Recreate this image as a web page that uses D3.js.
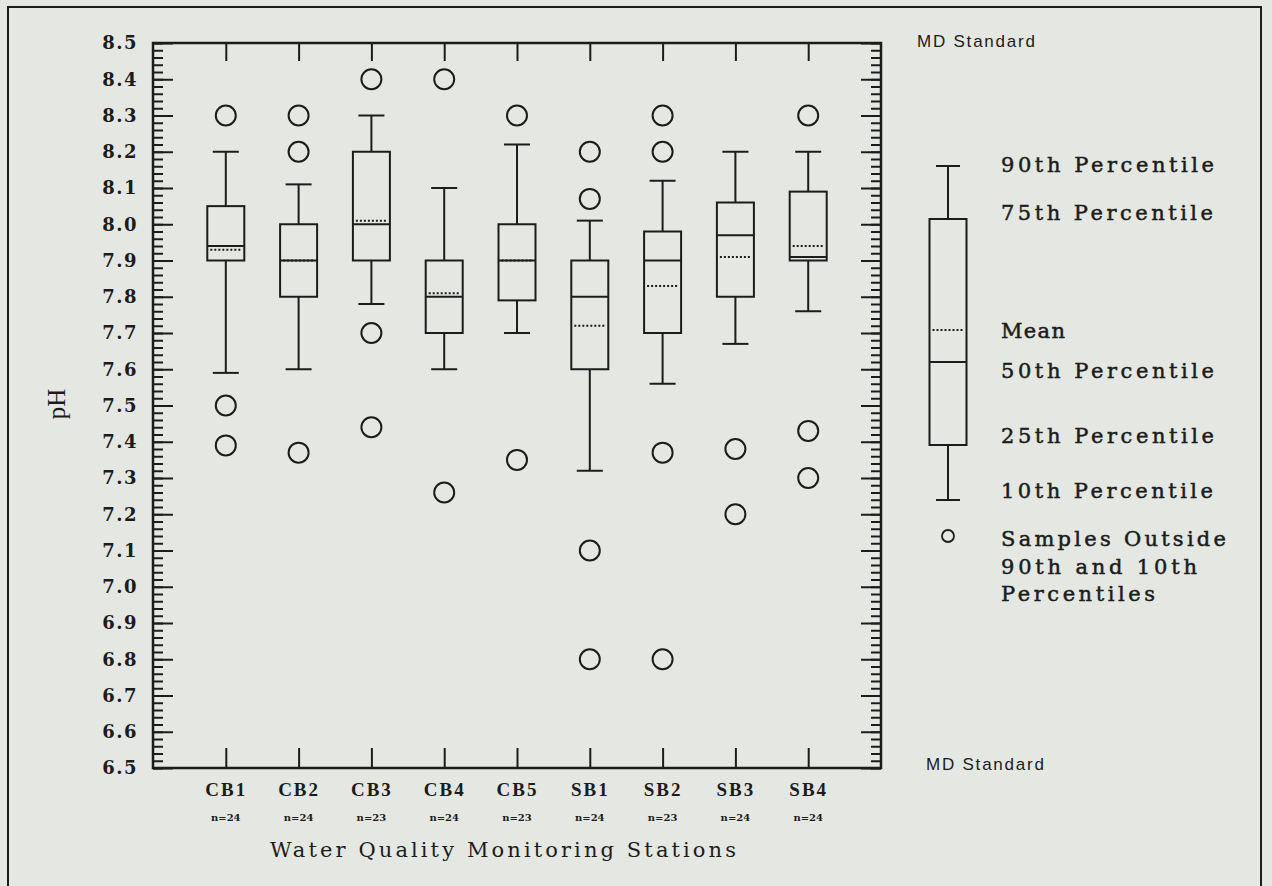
<!DOCTYPE html>
<html>
<head>
<meta charset="utf-8">
<script src="https://cdn.jsdelivr.net/npm/d3@7"></script>
<style>
  html, body { margin: 0; padding: 0; background: #e4e7e2; }
  svg { display: block; }
</style>
</head>
<body>
<svg id="chart" width="1272" height="886"></svg>
<script>
// ---------------- data ----------------
const stations   = ["CB1", "CB2", "CB3", "CB4", "CB5", "SB1", "SB2", "SB3", "SB4"];
const sampleSize = ["n=24", "n=24", "n=23", "n=24", "n=23", "n=24", "n=23", "n=24", "n=24"];
const p10   = [7.59, 7.60, 7.78, 7.60, 7.70, 7.32, 7.56, 7.67, 7.76];
const p25   = [7.90, 7.80, 7.90, 7.70, 7.79, 7.60, 7.70, 7.80, 7.90];
const p50   = [7.94, 7.90, 8.00, 7.80, 7.90, 7.80, 7.90, 7.97, 7.91];
const means = [7.93, 7.90, 8.01, 7.81, 7.90, 7.72, 7.83, 7.91, 7.94];
const p75   = [8.05, 8.00, 8.20, 7.90, 8.00, 7.90, 7.98, 8.06, 8.09];
const p90   = [8.20, 8.11, 8.30, 8.10, 8.22, 8.01, 8.12, 8.20, 8.20];
const outliers = [
  [8.30, 7.50, 7.39],
  [8.30, 8.20, 7.37],
  [8.40, 7.70, 7.44],
  [8.40, 7.26],
  [8.30, 7.35],
  [8.20, 8.07, 7.10, 6.80],
  [8.30, 8.20, 7.37, 6.80],
  [7.38, 7.20],
  [8.30, 7.43, 7.30]
];
const yMajorTicks = d3.range(0, 21).map(i => +(6.5 + i * 0.1).toFixed(1));
const yMinorTicks = d3.range(0, 101).map(i => +(6.5 + i * 0.02).toFixed(2));
const legendLabels = ["90th Percentile", "75th Percentile", "Mean", "50th Percentile",
                      "25th Percentile", "10th Percentile"];
const legendNote = ["Samples Outside", "90th and 10th", "Percentiles"];
const xTitle = "Water Quality Monitoring Stations";
const yTitle = "pH";
const stdLabel = "MD Standard";

// ---------------- layout ----------------
const ink = "#1c1c1c";
const plot = { left: 153, right: 881, top: 43, bottom: 768 };
const svg = d3.select("#chart");

svg.append("rect").attr("x", 0).attr("y", 0).attr("width", 1272).attr("height", 886)
  .attr("fill", "#e4e7e2");
// outer frame
svg.append("rect").attr("x", 8).attr("y", 7).attr("width", 1253).attr("height", 900)
  .attr("fill", "none").attr("stroke", ink).attr("stroke-width", 2);

const x = d3.scalePoint().domain(stations).range([plot.left, plot.right]).padding(1);
const y = d3.scaleLinear().domain([6.5, 8.5]).range([plot.bottom, plot.top]);

// axes
function styleAxis(g) {
  g.selectAll("path.domain").remove();
  g.selectAll("line").attr("stroke", ink).attr("stroke-width", 2);
}
// left minor
svg.append("g").attr("transform", `translate(${plot.left},0)`)
  .call(d3.axisLeft(y).tickValues(yMinorTicks).tickSizeInner(-10).tickSizeOuter(0).tickFormat(""))
  .call(styleAxis);
// left major with labels
svg.append("g").attr("transform", `translate(${plot.left},0)`)
  .call(d3.axisLeft(y).tickValues(yMajorTicks).tickSizeInner(-20).tickSizeOuter(0)
        .tickPadding(15).tickFormat(d3.format(".1f")))
  .call(styleAxis)
  .call(g => g.selectAll("text")
    .attr("fill", ink)
    .style("font-family", "'DejaVu Serif', serif")
    .style("font-weight", "bold")
    .style("font-size", "18px")
    .style("letter-spacing", "1.5px"));
// right minor & major
svg.append("g").attr("transform", `translate(${plot.right},0)`)
  .call(d3.axisRight(y).tickValues(yMinorTicks).tickSizeInner(-10).tickSizeOuter(0).tickFormat(""))
  .call(styleAxis);
svg.append("g").attr("transform", `translate(${plot.right},0)`)
  .call(d3.axisRight(y).tickValues(yMajorTicks).tickSizeInner(-20).tickSizeOuter(0).tickFormat(""))
  .call(styleAxis);
// top category ticks
svg.append("g").attr("transform", `translate(0,${plot.top})`)
  .call(d3.axisTop(x).tickSizeInner(-18).tickSizeOuter(0).tickFormat(""))
  .call(styleAxis);
// bottom category ticks + labels
svg.append("g").attr("transform", `translate(0,${plot.bottom})`)
  .call(d3.axisBottom(x).tickSizeInner(-20).tickSizeOuter(0).tickPadding(15))
  .call(styleAxis)
  .call(g => g.selectAll("text")
    .attr("fill", ink)
    .style("font-family", "'Liberation Serif', serif")
    .style("font-weight", "bold")
    .style("font-size", "19px")
    .style("letter-spacing", "2px"));

// plot frame
svg.append("rect")
  .attr("x", plot.left).attr("y", plot.top)
  .attr("width", plot.right - plot.left).attr("height", plot.bottom - plot.top)
  .attr("fill", "none").attr("stroke", ink).attr("stroke-width", 2.5);

// sample sizes
svg.append("g").selectAll("text").data(stations).join("text")
  .attr("x", d => x(d)).attr("y", 821)
  .attr("text-anchor", "middle")
  .attr("fill", ink)
  .style("font-family", "'DejaVu Serif', serif")
  .style("font-weight", "bold")
  .style("font-size", "10px")
  .text((d, i) => sampleSize[i]);

// titles
svg.append("text")
  .attr("x", 503).attr("y", 857)
  .attr("text-anchor", "middle")
  .attr("textLength", 466).attr("lengthAdjust", "spacing")
  .attr("fill", ink)
  .style("font-family", "'DejaVu Serif', serif")
  .style("font-size", "21px")
  .text(xTitle);
svg.append("text")
  .attr("transform", "translate(65,404) rotate(-90)")
  .attr("text-anchor", "middle")
  .attr("fill", ink)
  .style("font-family", "'Liberation Serif', serif")
  .style("font-size", "25px")
  .text(yTitle);

// MD Standard labels
[[917, 47], [926, 770]].forEach(([tx, ty]) => {
  svg.append("text").attr("x", tx).attr("y", ty)
    .attr("textLength", 118).attr("lengthAdjust", "spacing")
    .attr("fill", ink)
    .style("font-family", "'Liberation Sans', sans-serif")
    .style("font-size", "17px")
    .text(stdLabel);
});

// ---------------- boxes ----------------
const boxW = 37, capW = 26, sw = 2;
const data = stations.map((s, i) => ({
  s, p10: p10[i], p25: p25[i], p50: p50[i], mean: means[i], p75: p75[i], p90: p90[i], out: outliers[i]
}));
const gb = svg.append("g");
const boxes = gb.selectAll("g.box").data(data).join("g").attr("class", "box")
  .attr("transform", d => `translate(${x(d.s)},0)`);
// whiskers
boxes.append("line").attr("x1", 0).attr("x2", 0)
  .attr("y1", d => y(d.p90)).attr("y2", d => y(d.p75))
  .attr("stroke", ink).attr("stroke-width", sw);
boxes.append("line").attr("x1", 0).attr("x2", 0)
  .attr("y1", d => y(d.p25)).attr("y2", d => y(d.p10))
  .attr("stroke", ink).attr("stroke-width", sw);
boxes.append("line").attr("x1", -capW / 2).attr("x2", capW / 2)
  .attr("y1", d => y(d.p90)).attr("y2", d => y(d.p90))
  .attr("stroke", ink).attr("stroke-width", sw);
boxes.append("line").attr("x1", -capW / 2).attr("x2", capW / 2)
  .attr("y1", d => y(d.p10)).attr("y2", d => y(d.p10))
  .attr("stroke", ink).attr("stroke-width", sw);
// box
boxes.append("rect").attr("x", -boxW / 2).attr("width", boxW)
  .attr("y", d => y(d.p75)).attr("height", d => y(d.p25) - y(d.p75))
  .attr("fill", "none").attr("stroke", ink).attr("stroke-width", sw);
// median
boxes.append("line").attr("x1", -boxW / 2).attr("x2", boxW / 2)
  .attr("y1", d => y(d.p50)).attr("y2", d => y(d.p50))
  .attr("stroke", ink).attr("stroke-width", sw);
// mean
boxes.append("line").attr("x1", -boxW / 2 + 3).attr("x2", boxW / 2 - 3)
  .attr("y1", d => y(d.mean)).attr("y2", d => y(d.mean))
  .attr("stroke", ink).attr("stroke-width", sw).attr("stroke-dasharray", "2,2");
// outliers
boxes.selectAll("circle").data(d => d.out).join("circle")
  .attr("cx", 0).attr("cy", v => y(v)).attr("r", 10)
  .attr("fill", "none").attr("stroke", ink).attr("stroke-width", 2);

// ---------------- legend ----------------
const lg = svg.append("g");
const lx = 948, lbw = 37, lcw = 24;
const L = { p90: 166, p75: 219, mean: 330, p50: 362, p25: 445, p10: 500, out: 536 };
lg.append("line").attr("x1", lx).attr("x2", lx).attr("y1", L.p90).attr("y2", L.p75)
  .attr("stroke", ink).attr("stroke-width", sw);
lg.append("line").attr("x1", lx).attr("x2", lx).attr("y1", L.p25).attr("y2", L.p10)
  .attr("stroke", ink).attr("stroke-width", sw);
lg.append("line").attr("x1", lx - lcw / 2).attr("x2", lx + lcw / 2).attr("y1", L.p90).attr("y2", L.p90)
  .attr("stroke", ink).attr("stroke-width", sw);
lg.append("line").attr("x1", lx - lcw / 2).attr("x2", lx + lcw / 2).attr("y1", L.p10).attr("y2", L.p10)
  .attr("stroke", ink).attr("stroke-width", sw);
lg.append("rect").attr("x", lx - lbw / 2).attr("width", lbw).attr("y", L.p75).attr("height", L.p25 - L.p75)
  .attr("fill", "none").attr("stroke", ink).attr("stroke-width", sw);
lg.append("line").attr("x1", lx - lbw / 2).attr("x2", lx + lbw / 2).attr("y1", L.p50).attr("y2", L.p50)
  .attr("stroke", ink).attr("stroke-width", sw);
lg.append("line").attr("x1", lx - lbw / 2 + 3).attr("x2", lx + lbw / 2 - 3).attr("y1", L.mean).attr("y2", L.mean)
  .attr("stroke", ink).attr("stroke-width", sw).attr("stroke-dasharray", "2,2");
lg.append("circle").attr("cx", lx).attr("cy", L.out).attr("r", 6)
  .attr("fill", "none").attr("stroke", ink).attr("stroke-width", 1.8);

const legendText = [
  { t: legendLabels[0], y: 172, w: 213 },
  { t: legendLabels[1], y: 220, w: 212 },
  { t: legendLabels[2], y: 338, w: 64 },
  { t: legendLabels[3], y: 378, w: 213 },
  { t: legendLabels[4], y: 443, w: 213 },
  { t: legendLabels[5], y: 498, w: 212 },
  { t: legendNote[0], y: 546, w: 225 },
  { t: legendNote[1], y: 574, w: 196 },
  { t: legendNote[2], y: 601, w: 154 }
];
lg.selectAll("text").data(legendText).join("text")
  .attr("x", 1001).attr("y", d => d.y)
  .attr("textLength", d => d.w).attr("lengthAdjust", "spacing")
  .attr("fill", ink)
  .attr("stroke", ink).attr("stroke-width", 0.5)
  .style("font-family", "'DejaVu Serif', serif")
  .style("font-size", "21px")
  .text(d => d.t);
</script>
</body>
</html>
